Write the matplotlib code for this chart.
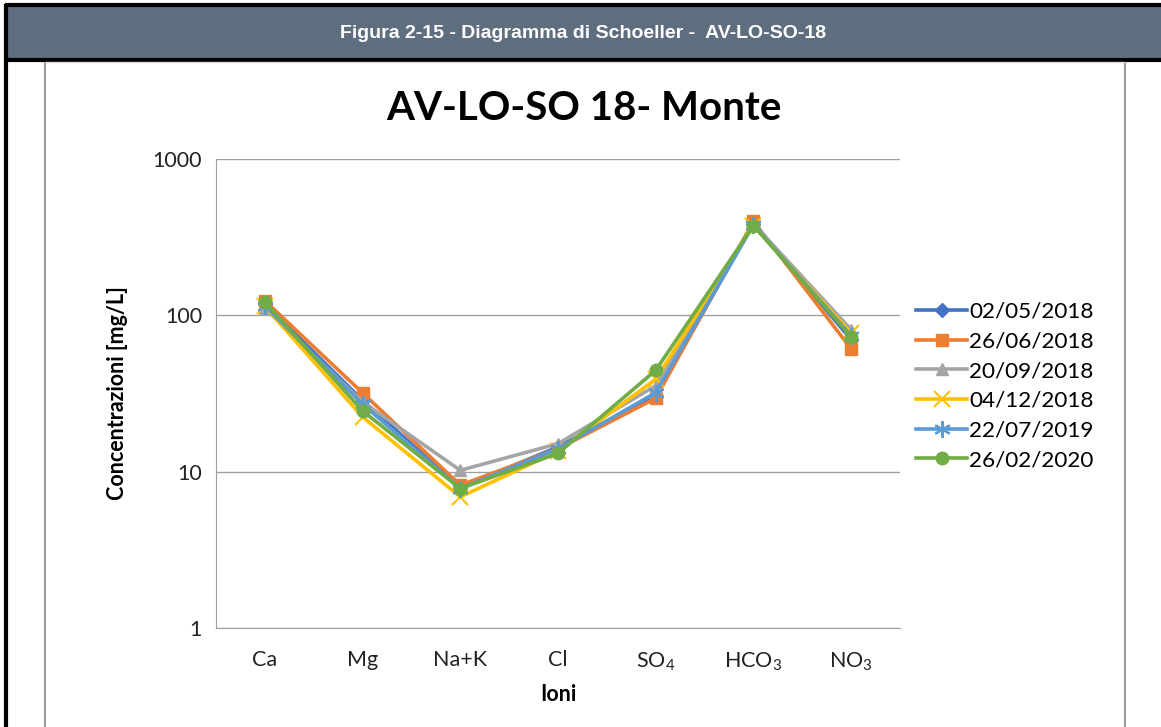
import matplotlib
matplotlib.use("Agg")
import matplotlib.pyplot as plt
from matplotlib.patches import Rectangle
from matplotlib.lines import Line2D

plt.rcParams["mathtext.fontset"] = "custom"
plt.rcParams["mathtext.rm"] = "Lato"
plt.rcParams["mathtext.it"] = "Lato:italic"
plt.rcParams["mathtext.bf"] = "Lato:bold"

categories = ["Ca", "Mg", "Na+K", "Cl", r"SO$_{\mathrm{4}}$", r"HCO$_{\mathrm{3}}$", r"NO$_{\mathrm{3}}$"]
dates = ["02/05/2018", "26/06/2018", "20/09/2018", "04/12/2018", "22/07/2019", "26/02/2020"]
s_020518 = [118, 28.6, 7.9, 14.4, 30.5, 385, 70]
s_260618 = [124, 31.9, 8.2, 14.0, 29.5, 400, 61]
s_200918 = [111, 27.9, 10.2, 15.1, 35.5, 385, 81]
s_041218 = [114, 22.4, 6.9, 13.5, 39.0, 375, 77]
s_220719 = [115, 27.0, 7.8, 14.0, 32.0, 380, 74]
s_260220 = [121.6, 24.5, 7.8, 13.1, 44.5, 375, 73]
series = [s_020518, s_260618, s_200918, s_041218, s_220719, s_260220]

colors = ["#4472C4", "#ED7D31", "#A5A5A5", "#FFC000", "#5B9BD5", "#70AD47"]
markers = ["D", "s", "^", "x", (6, 2, 0), "o"]
msizes = [7, 9, 9, 11, 12, 9]

FAM = ["Lato", "DejaVu Sans"]

W, H = 1161, 727
fig = plt.figure(figsize=(W / 100, H / 100), dpi=100)
fig.patch.set_facecolor("white")

def fx(px):
    return px / W

def fy(py):
    return 1 - py / H

# header band
fig.patches.append(Rectangle((fx(6), fy(60)), 1 - fx(6), fy(5) - fy(60),
                             transform=fig.transFigure, facecolor="#5F6E7F",
                             edgecolor="none", zorder=0))
fig.add_artist(Line2D([fx(5), 1], [fy(5), fy(5)], color="black", lw=3, solid_capstyle="butt"))
fig.add_artist(Line2D([fx(5), 1], [fy(60), fy(60)], color="black", lw=3, solid_capstyle="butt"))
fig.add_artist(Line2D([fx(6), fx(6)], [fy(4), 0], color="black", lw=3, solid_capstyle="butt"))
# chart frame
fig.add_artist(Line2D([fx(45), fx(45)], [fy(62), 0], color="#9A9A9A", lw=1.5, solid_capstyle="butt"))
fig.add_artist(Line2D([fx(1125), fx(1125)], [fy(62), 0], color="#9A9A9A", lw=1.5, solid_capstyle="butt"))
fig.add_artist(Line2D([fx(45), fx(1125)], [fy(62), fy(62)], color="#D9D9D9", lw=1, solid_capstyle="butt"))

fig.text(fx(583), fy(33), "Figura 2-15 - Diagramma di Schoeller -  AV-LO-SO-18",
         color="white", fontsize=14, fontweight="bold", family="Liberation Sans",
         ha="center", va="center")
fig.text(fx(584), fy(108), "AV-LO-SO 18- Monte", fontsize=29, fontweight="bold",
         family="Lato", ha="center", va="center", color="#000000")

ax = fig.add_axes([fx(216), fy(628), fx(900) - fx(216), fy(159) - fy(628)])
x = list(range(len(categories)))
for vals, c, m, ms, lab in zip(series, colors, markers, msizes, dates):
    mew = 1.5 if m in ("x", (6, 2, 0)) else 1
    ax.plot(x, vals, color=c, lw=2.6, marker=m, markersize=ms, markeredgecolor=c,
            markerfacecolor=c, markeredgewidth=mew, label=lab)

ax.set_yscale("log")
ax.set_ylim(1, 1000)
ax.set_xlim(-0.5, len(categories) - 0.5)
ax.set_yticks([1, 10, 100, 1000])
ax.set_yticklabels(["1", "10", "100", "1000"])
ax.minorticks_off()
ax.set_xticks(x)
ax.set_xticklabels(categories)
ax.tick_params(axis="both", length=0, labelsize=15.5, colors="#222222", pad=10)
ax.tick_params(axis="x", pad=16)
for lab in ax.get_xticklabels() + ax.get_yticklabels():
    lab.set_family(FAM)
ax.grid(axis="y", color="#A0A0A0", lw=1)
ax.set_axisbelow(True)
for s in ["top", "right"]:
    ax.spines[s].set_visible(False)
ax.spines["left"].set_color("#A0A0A0")
ax.spines["bottom"].set_color("#A0A0A0")

ax.set_ylabel("Concentrazioni [mg/L]", fontsize=15.5, fontweight="bold", family=FAM,
              labelpad=18)
ax.set_xlabel("Ioni", fontsize=15.5, fontweight="bold", family=FAM, labelpad=8)

leg = fig.legend(loc="center left", bbox_to_anchor=(fx(907), fy(386)), frameon=False,
                 prop={"family": FAM, "size": 16.2}, handlelength=2.27,
                 handletextpad=0.1, labelspacing=0.43, borderaxespad=0)

fig.savefig("out.png", dpi=100)
